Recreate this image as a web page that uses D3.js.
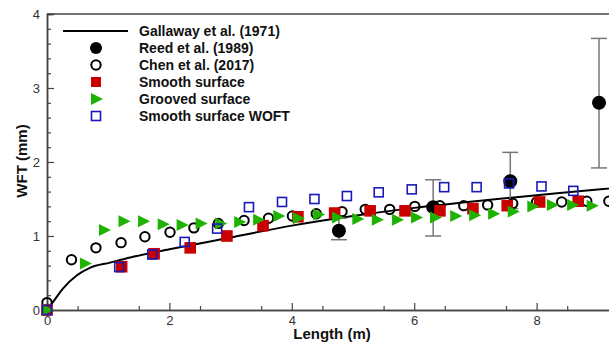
<!DOCTYPE html>
<meta charset="utf-8">
<title>WFT vs length</title>
<style>
body { margin: 0; background: #fff; }
text { font-family: Arial, "Liberation Sans", sans-serif; }
.tick text { font-size: 13px; fill: #333; }
.legend text { font-size: 14px; font-weight: bold; fill: #111; }
.axis-title { font-size: 15px; font-weight: bold; fill: #111; }
</style>
<body>
<script src="https://d3js.org/d3.v7.min.js"></script>
<script>

// Gallaway et al. (1971) curve
var gallawayX = [0, 0.1, 0.26, 0.49, 0.7, 1.03, 1.36, 2, 3, 4, 5, 6, 7, 8, 9, 10];
var gallawayY = [0, 0.11, 0.29, 0.47, 0.57, 0.64, 0.71, 0.82, 0.98, 1.14, 1.27, 1.38, 1.47, 1.55, 1.63, 1.7];

// Reed et al. (1989) with error bars
var reedX = [4.77, 6.31, 7.57, 9.02];
var reedY = [1.07, 1.39, 1.74, 2.8];
var reedLo = [0.95, 1.0, 1.37, 1.92];
var reedHi = [1.24, 1.76, 2.13, 3.67];

// Chen et al. (2017)
var chenX = [0, 0.4, 0.8, 1.21, 1.6, 2.01, 2.4, 2.8, 3.22, 3.62, 4.01, 4.4, 4.82, 5.2, 5.6, 6.01, 6.42, 6.81, 7.2, 7.61, 8.0, 8.41, 8.82, 9.18];
var chenY = [0.1, 0.68, 0.84, 0.91, 0.99, 1.05, 1.11, 1.17, 1.21, 1.24, 1.27, 1.3, 1.33, 1.36, 1.36, 1.4, 1.41, 1.41, 1.42, 1.44, 1.46, 1.46, 1.47, 1.47];

// Smooth surface
var smoothX = [0, 1.22, 1.75, 2.34, 2.94, 3.53, 4.1, 4.7, 5.28, 5.85, 6.42, 6.96, 7.52, 8.05, 8.68];
var smoothY = [0, 0.585, 0.76, 0.84, 1.0, 1.14, 1.26, 1.31, 1.34, 1.34, 1.34, 1.37, 1.41, 1.46, 1.47];

// Grooved surface
var groovedX = [0, 0.62, 0.93, 1.25, 1.57, 1.89, 2.2, 2.51, 2.83, 3.14, 3.45, 3.78, 4.1, 4.43, 4.74, 5.07, 5.39, 5.72, 6.03, 6.34, 6.67, 6.98, 7.29, 7.61, 7.93, 8.25, 8.58, 8.9];
var groovedY = [0, 0.63, 1.08, 1.2, 1.2, 1.16, 1.15, 1.17, 1.17, 1.19, 1.22, 1.27, 1.24, 1.29, 1.25, 1.23, 1.22, 1.22, 1.25, 1.25, 1.27, 1.28, 1.3, 1.33, 1.4, 1.42, 1.42, 1.41];

// Smooth surface WOFT
var woftX = [0, 1.18, 1.72, 2.25, 2.78, 3.3, 3.84, 4.37, 4.9, 5.42, 5.96, 6.49, 7.02, 7.55, 8.08, 8.6];
var woftY = [0, 0.58, 0.75, 0.92, 1.1, 1.39, 1.46, 1.5, 1.54, 1.59, 1.63, 1.66, 1.66, 1.71, 1.67, 1.61];

var xTicks = [0, 2, 4, 6, 8];
var yTicks = [0, 1, 2, 3, 4];
var legendLabels = ["Gallaway et al. (1971)", "Reed et al. (1989)", "Chen et al. (2017)",
                    "Smooth surface", "Grooved surface", "Smooth surface WOFT"];

var W = 609, H = 343;
var red = "#c80000", green = "#1db300", blue = "#1a1ab8";

var svg = d3.select("body").append("svg")
    .attr("width", W)
    .attr("height", H);

// x axis runs on past the right edge of the picture
var x = d3.scaleLinear().domain([0, 10]).range([47, 659]);
var y = d3.scaleLinear().domain([0, 4]).range([310, 14]);

function zip(xs, ys) { return xs.map(function(v, i) { return [v, ys[i]]; }); }

// axes, ticks pointing inwards
var axisCol = "#444";
svg.append("line").attr("x1", x(0)).attr("x2", x(10)).attr("y1", y(4)).attr("y2", y(4))
    .style("stroke", axisCol).style("stroke-width", 1.5);

var gx = svg.append("g").attr("transform", "translate(0," + y(0) + ")")
    .call(d3.axisBottom(x).tickValues(xTicks).tickSize(-7).tickPadding(6).tickFormat(d3.format("d")));
var gxMinor = svg.append("g").attr("transform", "translate(0," + y(0) + ")")
    .call(d3.axisBottom(x).tickValues(d3.range(0.5, 10, 1)).tickSize(-4).tickFormat(""));
var gy = svg.append("g").attr("transform", "translate(" + x(0) + ",0)")
    .call(d3.axisLeft(y).tickValues(yTicks).tickSize(-7).tickPadding(6).tickFormat(d3.format("d")));
var gyMinor = svg.append("g").attr("transform", "translate(" + x(0) + ",0)")
    .call(d3.axisLeft(y).tickValues(d3.range(0, 4, 0.2).filter(function(v) {
        return Math.abs(v - Math.round(v)) > 0.01; })).tickSize(-4).tickFormat(""));

[gx, gxMinor, gy, gyMinor].forEach(function(g) {
  g.select(".domain").style("stroke", axisCol).style("stroke-width", 1.5);
  g.selectAll(".tick line").style("stroke", axisCol).style("stroke-width", 1.2);
});
gx.selectAll(".tick text").attr("dy", "0.72em");
gy.selectAll(".tick text").attr("dx", "-1");

svg.append("text").attr("class", "axis-title")
    .attr("x", 332).attr("y", 339).attr("text-anchor", "middle").text("Length (m)");
svg.append("text").attr("class", "axis-title")
    .attr("transform", "translate(27,161) rotate(-90)")
    .attr("text-anchor", "middle").text("WFT (mm)");

// Gallaway curve
var line = d3.line().x(function(d) { return x(d[0]); }).y(function(d) { return y(d[1]); })
    .curve(d3.curveMonotoneX);
svg.append("path").datum(zip(gallawayX, gallawayY))
    .attr("d", line)
    .style("fill", "none").style("stroke", "#000").style("stroke-width", 2);

// Reed error bars
var reed = reedX.map(function(v, i) { return {x: v, y: reedY[i], lo: reedLo[i], hi: reedHi[i]}; });
var eb = svg.append("g").selectAll("g").data(reed).enter().append("g")
    .style("stroke", "#777").style("stroke-width", 1.5);
eb.append("line").attr("x1", function(d) { return x(d.x); }).attr("x2", function(d) { return x(d.x); })
    .attr("y1", function(d) { return y(d.lo); }).attr("y2", function(d) { return y(d.hi); });
["lo", "hi"].forEach(function(k) {
  eb.append("line").attr("x1", function(d) { return x(d.x) - 8; }).attr("x2", function(d) { return x(d.x) + 8; })
      .attr("y1", function(d) { return y(d[k]); }).attr("y2", function(d) { return y(d[k]); });
});

// marker painters
function circles(data, r, fill, stroke) {
  svg.append("g").selectAll("circle").data(data).enter().append("circle")
      .attr("cx", function(d) { return x(d[0]); }).attr("cy", function(d) { return y(d[1]); })
      .attr("r", r).style("fill", fill).style("stroke", stroke).style("stroke-width", 2);
}
function squares(data, s, fill, stroke) {
  svg.append("g").selectAll("rect").data(data).enter().append("rect")
      .attr("x", function(d) { return x(d[0]) - s / 2; }).attr("y", function(d) { return y(d[1]) - s / 2; })
      .attr("width", s).attr("height", s)
      .style("fill", fill).style("stroke", stroke).style("stroke-width", 1.6);
}
var triPath = "M-5,-6L7,0L-5,6Z";
function triangles(data) {
  svg.append("g").selectAll("path").data(data).enter().append("path")
      .attr("transform", function(d) { return "translate(" + x(d[0]) + "," + y(d[1]) + ")"; })
      .attr("d", triPath).style("fill", green);
}

circles(zip(reedX, reedY), 6, "#000", "#000");
circles(zip(chenX, chenY), 4.7, "none", "#000");
squares(zip(smoothX, smoothY), 10, red, red);
triangles(zip(groovedX, groovedY));
squares(zip(woftX, woftY), 9, "none", blue);

// legend
var rowY = [31, 48, 65, 82, 99, 116];
var leg = svg.append("g").attr("class", "legend");
leg.selectAll("text").data(legendLabels).enter().append("text")
    .attr("x", 139).attr("y", function(d, i) { return rowY[i]; }).attr("dy", "0.35em").text(function(d) { return d; });
leg.append("line").attr("x1", 63).attr("x2", 128).attr("y1", rowY[0]).attr("y2", rowY[0])
    .style("stroke", "#000").style("stroke-width", 2);
leg.append("circle").attr("cx", 96).attr("cy", rowY[1]).attr("r", 6).style("fill", "#000");
leg.append("circle").attr("cx", 96).attr("cy", rowY[2]).attr("r", 4.7)
    .style("fill", "none").style("stroke", "#000").style("stroke-width", 2);
leg.append("rect").attr("x", 91).attr("y", rowY[3] - 5).attr("width", 10).attr("height", 10).style("fill", red);
leg.append("path").attr("transform", "translate(96," + rowY[4] + ")").attr("d", triPath).style("fill", green);
leg.append("rect").attr("x", 91.5).attr("y", rowY[5] - 4.5).attr("width", 9).attr("height", 9)
    .style("fill", "none").style("stroke", blue).style("stroke-width", 1.6);

</script>
</body>
